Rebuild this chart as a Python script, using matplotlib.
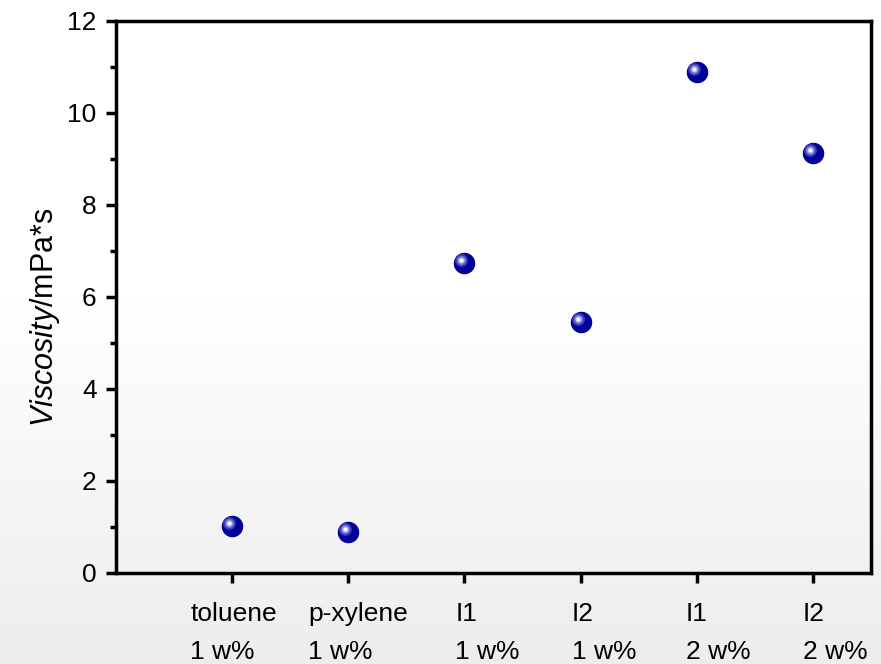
import numpy as np
import matplotlib.pyplot as plt
import matplotlib.transforms as mtransforms

plt.rcParams['font.family'] = ['Liberation Sans', 'DejaVu Sans']
plt.rcParams['mathtext.fontset'] = 'custom'
plt.rcParams['mathtext.rm'] = 'Liberation Sans'
plt.rcParams['mathtext.it'] = 'Liberation Sans:italic'

# data
samples = ["toluene\n1 w%", "p-xylene\n1 w%", "I1\n1 w%", "I2\n1 w%", "I1\n2 w%", "I2\n2 w%"]
positions = [1, 2, 3, 4, 5, 6]
viscosity = [1.02, 0.89, 6.74, 5.46, 10.89, 9.13]

fig = plt.figure(figsize=(8.81, 6.64), dpi=100)

# background gradient (white on top, light grey at bottom)
bg = fig.add_axes([0, 0, 1, 1], zorder=-10)
rows = np.linspace(0, 1, 256)
shade = np.clip((rows - 0.45) / 0.55, 0, 1)
grey = 1.0 - 0.07 * shade
img = np.repeat(grey[:, None, None], 2, axis=1).repeat(3, axis=2)
bg.imshow(img, aspect='auto', extent=[0, 1, 1, 0], interpolation='bilinear')
bg.set_xlim(0, 1)
bg.set_ylim(1, 0)
bg.axis('off')

ax = fig.add_axes([116 / 881, 1 - 573 / 664, (871 - 116) / 881, (573 - 21) / 664])
ax.patch.set_alpha(0)

# sphere-like markers: dark body plus a light highlight shifted up-left
ax.scatter(positions, viscosity, s=215, color='#00009c', edgecolors='#000080',
           linewidths=0.8, zorder=3)
shift = mtransforms.ScaledTranslation(-2.2 / 72, 2.2 / 72, fig.dpi_scale_trans)
layers = [(85, '#3a3ac0'), (42, '#7a7ad8'), (17, '#c8c8f0'), (5, '#ffffff')]
for size, col in layers:
    ax.scatter(positions, viscosity, s=size, color=col, linewidths=0,
               transform=ax.transData + shift, zorder=4)

ax.set_xlim(0, 6.5)
ax.set_ylim(0, 12)
ax.set_yticks([0, 2, 4, 6, 8, 10, 12])
ax.set_yticks([1, 3, 5, 7, 9, 11], minor=True)
ax.set_xticks(positions)
ax.set_xticklabels(samples, fontsize=19, linespacing=1.75, ha='left',
                   multialignment='left')
ax.tick_params(axis='y', labelsize=19)

for sp in ax.spines.values():
    sp.set_linewidth(2.5)
ax.tick_params(which='major', direction='out', length=7, width=2.5, pad=7)
ax.tick_params(axis='x', which='major', pad=14)
ax.tick_params(which='minor', direction='out', length=4, width=2.5)

# shift tick labels to where they sit in the reference
offsets = [-42, -40, -9, -9, -11, -10]
for lab, dx in zip(ax.get_xticklabels(), offsets):
    lab.set_transform(lab.get_transform() +
                      mtransforms.ScaledTranslation(dx / 100, 0, fig.dpi_scale_trans))

ax.set_ylabel(r'$\mathit{Viscosity}$/mPa*s', fontsize=22)
ax.yaxis.set_label_coords(-0.072, 0.464)

fig.savefig('out.png', dpi=100)
